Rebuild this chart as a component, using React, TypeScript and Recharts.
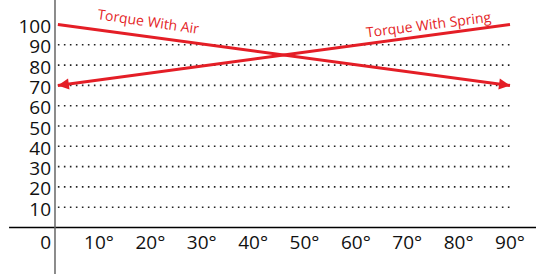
import React from 'react';
import { LineChart, Line, XAxis, YAxis, ReferenceLine, ReferenceDot } from 'recharts';

// ---- data ----
const angles = [2, 90];
const torqueWithAir = [100, 70];
const torqueWithSpring = [70, 100];
const xTicks = [10, 20, 30, 40, 50, 60, 70, 80, 90];
const yTicks = [0, 10, 20, 30, 40, 50, 60, 70, 80, 90, 100];
const gridValues = [10, 20, 30, 40, 50, 60, 70, 80, 90];
const labelTexts = ['Torque With Air', 'Torque With Spring'];
const labelX = [9.6, 62.1];
const labelY = [102.7, 93.6];
const labelAngle = [8.3, -7.2];

const airData = angles.map((a, i) => ({ x: a, y: torqueWithAir[i] }));
const springData = angles.map((a, i) => ({ x: a, y: torqueWithSpring[i] }));

const RED = '#e41e26';
const FONT = '"Open Sans", sans-serif';

const makeArrowDot = (arrowIndex: number, fromIndex: number) => (props: any) => {
  const { cx, cy, index, points } = props;
  if (index !== arrowIndex || cx == null || cy == null) return <g key={`d${index}`} />;
  let ang = 0;
  if (points && points[fromIndex]) {
    const p = points[fromIndex];
    ang = Math.atan2(cy - p.y, cx - p.x);
  }
  const len = 11;
  const hw = 5.5;
  const bx = cx - len * Math.cos(ang);
  const by = cy - len * Math.sin(ang);
  const nx = -Math.sin(ang);
  const ny = Math.cos(ang);
  const pts = `${cx},${cy} ${bx + nx * hw},${by + ny * hw} ${bx - nx * hw},${by - ny * hw}`;
  return <polygon key={`d${index}`} points={pts} fill={RED} stroke="none" />;
};

const YTick = (props: any) => {
  const { x, y, payload } = props;
  const extra = payload.value === 0 ? 21.5 : 8.5;
  return (
    <text x={x} y={y + extra} textAnchor="end" fontFamily={FONT} fontSize={19} fill="#111">
      {payload.value}
    </text>
  );
};

const XTick = (props: any) => {
  const { x, y, payload } = props;
  return (
    <text x={x} y={y + 21.5} textAnchor="middle" fontFamily={FONT} fontSize={19} fill="#111">
      {`${payload.value}°`}
    </text>
  );
};

const makeLabel = (i: number) => (props: any) => {
  const { cx, cy } = props;
  return (
    <text
      x={cx}
      y={cy}
      fontFamily={FONT}
      fontSize={14}
      fill={RED}
      transform={`rotate(${labelAngle[i]}, ${cx}, ${cy})`}
    >
      {labelTexts[i]}
    </text>
  );
};

export default function App() {
  return (
    <div style={{ width: 536, height: 274 }}>
      <style>{'body{margin:0;}'}</style>
      <LineChart
        width={536}
        height={274}
        margin={{ top: 24.5, right: 26, bottom: 0, left: 0 }}
      >
        <XAxis
          type="number"
          dataKey="x"
          domain={[0, 90]}
          ticks={xTicks}
          interval={0}
          axisLine={false}
          tickLine={false}
          tickSize={0}
          tickMargin={0}
          height={46.5}
          tick={<XTick />}
          allowDuplicatedCategory={false}
        />
        <YAxis
          type="number"
          dataKey="y"
          domain={[0, 100]}
          ticks={yTicks}
          interval={0}
          axisLine={false}
          tickLine={false}
          tickSize={0}
          tickMargin={-3.4}
          width={47.6}
          tick={<YTick />}
        />
        {gridValues.map((v) => (
          <ReferenceLine
            key={`g${v}`}
            segment={[{ x: 2, y: v }, { x: 90, y: v }]}
            stroke="#222"
            strokeWidth={1.6}
            strokeDasharray="1.6 4.4"
            ifOverflow="visible"
          />
        ))}
        <ReferenceLine
          segment={[{ x: -7.5, y: 0 }, { x: 95.2, y: 0 }]}
          stroke="#000"
          strokeWidth={1.5}
          ifOverflow="visible"
        />
        <ReferenceLine
          segment={[{ x: 1.44, y: -23 }, { x: 1.44, y: 112.1 }]}
          stroke="#666"
          strokeWidth={1.5}
          ifOverflow="visible"
        />
        <Line
          data={airData}
          dataKey="y"
          stroke={RED}
          strokeWidth={3}
          dot={makeArrowDot(1, 0)}
          activeDot={false}
          isAnimationActive={false}
        />
        <Line
          data={springData}
          dataKey="y"
          stroke={RED}
          strokeWidth={3}
          dot={makeArrowDot(0, 1)}
          activeDot={false}
          isAnimationActive={false}
        />
        {labelTexts.map((t, i) => (
          <ReferenceDot
            key={t}
            x={labelX[i]}
            y={labelY[i]}
            r={0}
            ifOverflow="visible"
            shape={makeLabel(i)}
          />
        ))}
      </LineChart>
    </div>
  );
}
